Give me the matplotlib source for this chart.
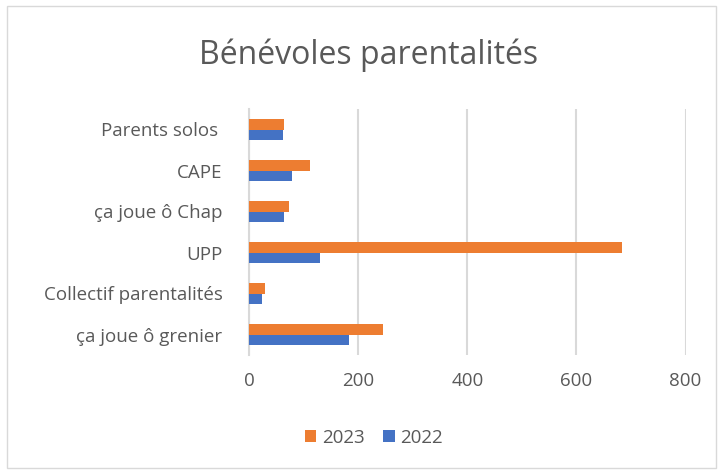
import matplotlib.pyplot as plt
from matplotlib.patches import Rectangle
import numpy as np

plt.rcParams['font.family'] = ['Open Sans', 'DejaVu Sans']

categories = ["ça joue ô grenier", "Collectif parentalités", "UPP",
              "ça joue ô Chap", "CAPE", "Parents solos "]
v2023 = [246, 29, 683, 73, 112, 65]
v2022 = [184, 23, 130, 65, 78, 63]

orange = '#ED7D31'
blue = '#4472C4'
txt = '#595959'
grid = '#D9D9D9'

fig = plt.figure(figsize=(7.23, 4.71), dpi=100)
ax = fig.add_axes([249/723, 1-355/471, (685.5-249)/723, (355-109)/471])

y = np.arange(len(categories))
h = 0.255
ax.barh(y + h/2, v2023, height=h, color=orange, label='2023', zorder=3)
ax.barh(y - h/2, v2022, height=h, color=blue, label='2022', zorder=3)

ax.set_xlim(0, 800)
ax.set_ylim(-0.5, len(categories) - 0.5)
ax.set_xticks([0, 200, 400, 600, 800])
ax.set_yticks(y)
ax.set_yticklabels(categories)
ax.tick_params(axis='both', length=0, labelsize=13.5, colors=txt)
ax.tick_params(axis='x', pad=12)
ax.tick_params(axis='y', pad=19)
ax.grid(axis='x', color=grid, linewidth=1.5, zorder=0)
for s in ['top', 'right', 'bottom']:
    ax.spines[s].set_visible(False)
ax.spines['left'].set_color(grid)
ax.spines['left'].set_linewidth(1.5)

fig.text(369/723, 1-55/471, "Bénévoles parentalités", ha='center', va='center',
         fontsize=23, color=txt)

handles, labels = ax.get_legend_handles_labels()
fig.legend(handles, labels, loc='center', bbox_to_anchor=(374/723, 1-438/471),
           ncol=2, frameon=False, fontsize=13.5, labelcolor=txt,
           handlelength=0.6, handleheight=0.6, handletextpad=0.3, columnspacing=1.0)

fig.patches.append(Rectangle((7/723, 3/471), 709/723, 462/471, transform=fig.transFigure,
                             fill=False, edgecolor=grid, linewidth=1))

fig.savefig('out.png', dpi=100)
